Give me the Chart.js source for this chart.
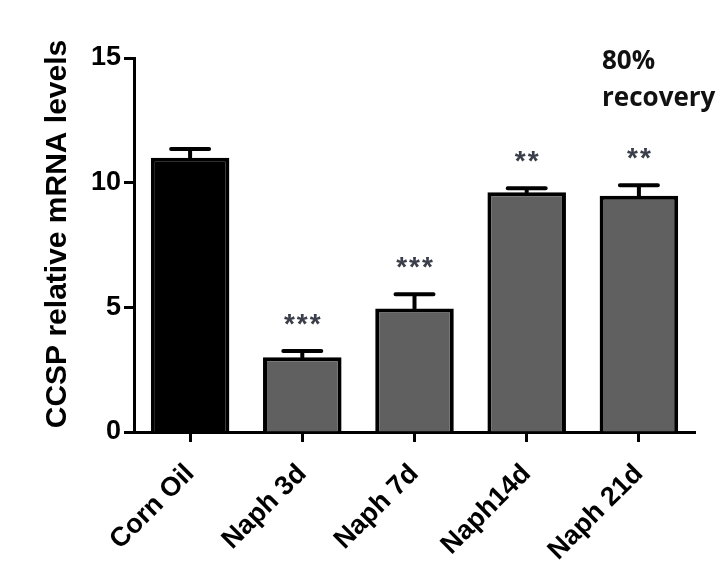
<!DOCTYPE html>
<html>
<head>
<meta charset="utf-8">
<script src="https://cdn.jsdelivr.net/npm/chart.js@4"></script>
<style>
html,body{margin:0;padding:0;background:#fff;}
#wrap{width:720px;height:583px;position:relative;}
</style>
</head>
<body>
<div id="wrap"><canvas id="c" width="720" height="583"></canvas></div>
<script>
const categories = ["Corn Oil", "Naph 3d", "Naph 7d", "Naph14d", "Naph 21d"];
const means = [11.0, 3.0, 4.95, 9.62, 9.48];
const errUpper = [11.35, 3.25, 5.52, 9.78, 9.9];
const significance = ["", "***", "***", "**", "**"];
const barColors = ["#000000", "#606060", "#606060", "#606060", "#606060"];
const yTicks = [0, 5, 10, 15];
const yTitle = "CCSP relative mRNA levels";
const note = ["80%", "recovery"];

const errorBarPlugin = {
  id: 'errorBars',
  afterDatasetsDraw(chart) {
    const ctx = chart.ctx;
    const meta = chart.getDatasetMeta(0);
    const ys = chart.scales.y;
    ctx.save();
    meta.data.forEach((bar, i) => {
      const x = bar.x;
      const yTop = ys.getPixelForValue(means[i]);
      const yErr = ys.getPixelForValue(errUpper[i]);
      ctx.strokeStyle = '#000';
      ctx.lineWidth = 4;
      ctx.lineCap = 'round';
      ctx.beginPath();
      ctx.moveTo(x, yTop);
      ctx.lineTo(x, yErr);
      ctx.moveTo(x - 19, yErr);
      ctx.lineTo(x + 19, yErr);
      ctx.stroke();
      if (significance[i]) {
        ctx.fillStyle = '#3a3f4a';
        ctx.font = 'bold 28px "Liberation Sans", Arial, sans-serif';
        ctx.letterSpacing = '2px';
        ctx.textAlign = 'center';
        ctx.textBaseline = 'middle';
        ctx.fillText(significance[i], x + 1, yErr - 26);
        ctx.letterSpacing = '0px';
      }
    });
    ctx.fillStyle = '#111';
    ctx.font = 'bold 26px "Open Sans", sans-serif';
    ctx.textAlign = 'left';
    ctx.textBaseline = 'middle';
    ctx.fillText(note[0], 602, 62);
    ctx.fillText(note[1], 602, 99);
    // y-axis title
    ctx.translate(58, 234);
    ctx.rotate(-Math.PI / 2);
    ctx.fillStyle = '#000';
    ctx.font = 'bold 30px "Liberation Sans", Arial, sans-serif';
    ctx.textAlign = 'center';
    ctx.textBaseline = 'middle';
    ctx.fillText(yTitle, 0, 0);
    ctx.restore();
  }
};

new Chart(document.getElementById('c'), {
  type: 'bar',
  data: {
    labels: categories,
    datasets: [{
      data: means,
      backgroundColor: barColors,
      borderColor: '#000',
      borderWidth: 4,
      borderSkipped: 'bottom',
      barPercentage: 0.70,
      categoryPercentage: 1.0
    }]
  },
  options: {
    responsive: false,
    animation: false,
    devicePixelRatio: 1,
    layout: { padding: { left: 0, right: 25, top: 58, bottom: 0 } },
    plugins: { legend: { display: false }, tooltip: { enabled: false } },
    scales: {
      x: {
        afterFit(scale) { scale.height = 151; },
        grid: { display: true, drawOnChartArea: false, offset: false, tickLength: 10, tickWidth: 3, color: '#000' },
        border: { display: true, color: '#000', width: 3 },
        ticks: {
          color: '#000',
          minRotation: 45, maxRotation: 45,
          padding: 16,
          font: { family: '"Liberation Sans", Arial, sans-serif', size: 27, weight: 'bold' }
        }
      },
      y: {
        min: 0, max: 15,
        afterFit(scale) { scale.width = 134; },
        afterBuildTicks(scale) { scale.ticks = yTicks.map(v => ({ value: v })); },
        grid: { display: true, drawOnChartArea: false, tickLength: 10, tickWidth: 3, color: '#000' },
        border: { display: true, color: '#000', width: 3 },
        ticks: {
          color: '#000',
          padding: 3,
          font: { family: '"Liberation Sans", Arial, sans-serif', size: 27, weight: 'bold' }
        }
      }
    }
  },
  plugins: [errorBarPlugin]
});
</script>
</body>
</html>
